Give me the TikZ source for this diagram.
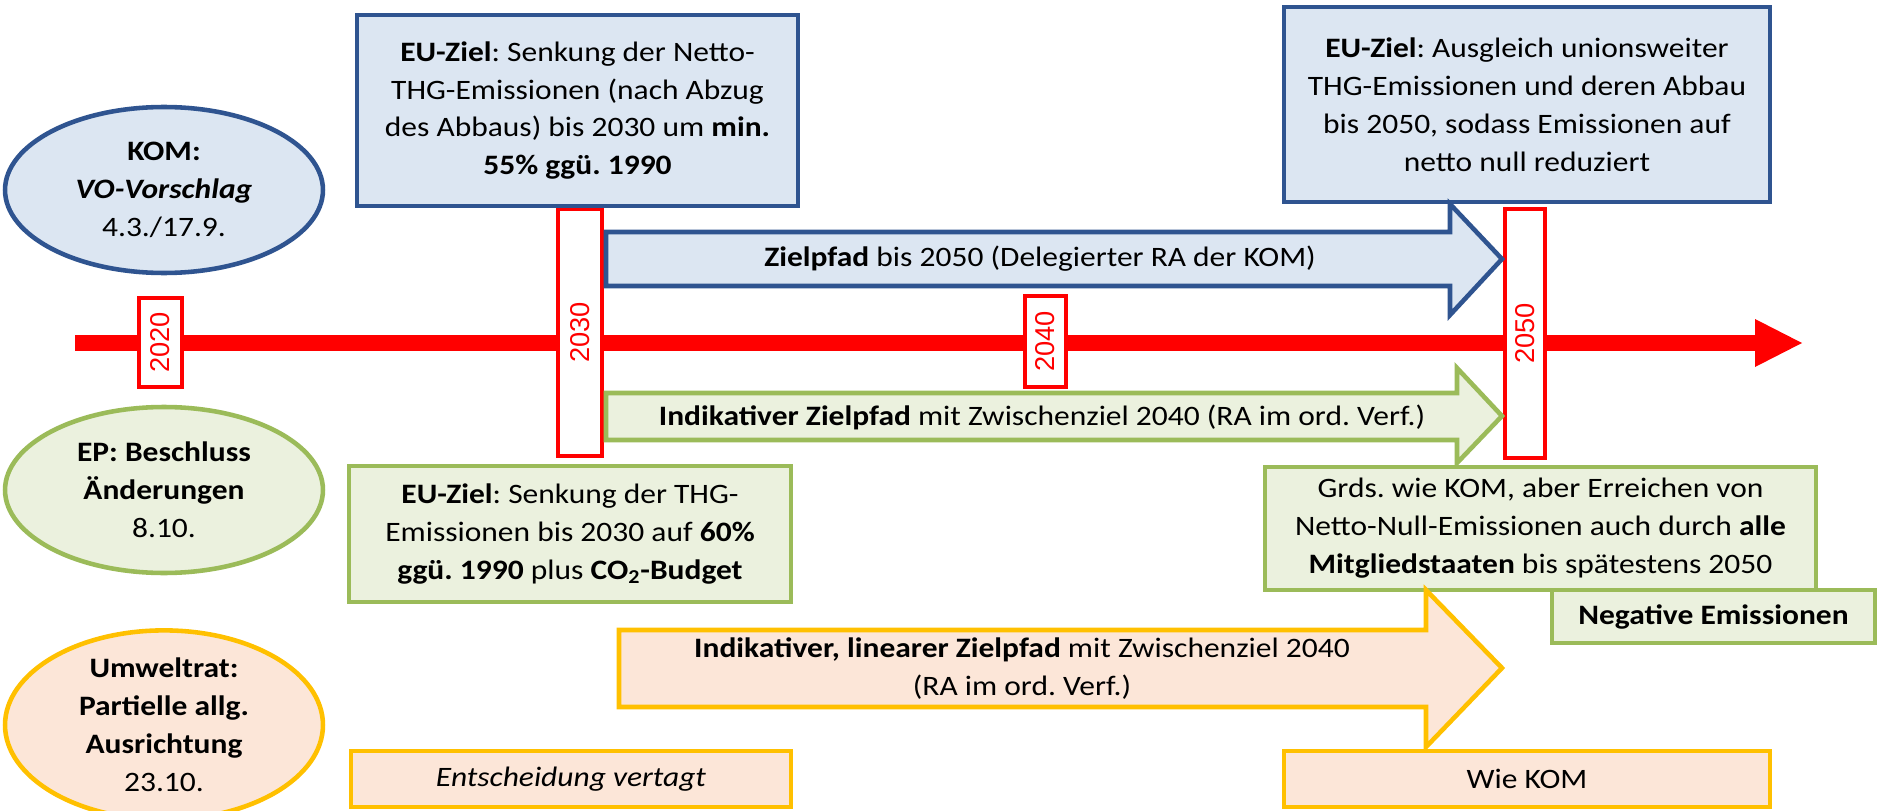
\documentclass[tikz,border=0pt]{standalone}
\usepackage{fontspec}
\setmainfont{Carlito}[FakeStretch=1.12]
\newfontfamily\jahrfont{Liberation Sans}
\usepackage{tikz}
\usetikzlibrary{shapes.geometric,positioning}
\frenchspacing
\definecolor{komblau}{HTML}{2F5490}
\definecolor{komhell}{HTML}{DCE6F2}
\definecolor{epgruen}{HTML}{9BBB59}
\definecolor{ephell}{HTML}{EBF1DE}
\definecolor{ratgelb}{HTML}{FFC000}
\definecolor{rathell}{HTML}{FCE6D8}
\tikzset{
    % Kästen und Ellipsen der drei Organe
    kombox/.style={draw=komblau, fill=komhell, line width=2.6pt, align=center, inner sep=0pt},
    epbox/.style={draw=epgruen, fill=ephell, line width=2.6pt, align=center, inner sep=0pt},
    ratbox/.style={draw=ratgelb, fill=rathell, line width=2.6pt, align=center, inner sep=0pt},
    organ/.style={ellipse, minimum width=6.36cm, minimum height=3.32cm},
    % Jahresmarken auf der Zeitachse
    jahrbox/.style={draw=red, fill=white, line width=1.9pt, rotate=90, inner sep=0pt,
        text=red, font=\fontsize{15.5}{15.5}\jahrfont},
    pfeiltext/.style={align=center, inner sep=0pt}
}

\begin{document}
\begin{tikzpicture}[x=0.02cm, y=-0.02cm, font=\fontsize{16}{21.6}\selectfont]
    \useasboundingbox (0,0) rectangle (1884,811);

    % ===================== Zeitachse =====================
    \path
    (75,343) coordinate (achse0)
    (1757,343) coordinate (achse1)
    (1755,319) coordinate (spitzeo)
    (1802,343) coordinate (spitze)
    (1755,367) coordinate (spitzeu)
    ;
    \draw[red, line width=0.32cm] (achse0) -- (achse1);
    \fill[red] (spitzeo) -- (spitze) -- (spitzeu) -- cycle;

    % Jahre (gedreht)
    \node[jahrbox, minimum width=1.78cm, minimum height=0.86cm] (j2020) at (160.5,342.5) {2020};
    \node[jahrbox, minimum width=4.94cm, minimum height=0.88cm] (j2030) at (580,332.5) {2030};
    \node[jahrbox, minimum width=1.82cm, minimum height=0.82cm] (j2040) at (1045.5,341.5) {2040};
    \node[jahrbox, minimum width=4.98cm, minimum height=0.80cm] (j2050) at (1525,333.5) {2050};

    % ===================== KOM =====================
    \node[kombox, organ] (kom) at (164,190)
        {\textbf{KOM:}\\\textbf{\textit{VO-Vorschlag}}\\4.3./17.9.};
    \node[kombox, minimum width=8.82cm, minimum height=3.82cm] (komziel) at (577.5,110.5)
        {\textbf{EU-Ziel}: Senkung der Netto-\\THG-Emissionen (nach Abzug\\des Abbaus) bis 2030 um \textbf{min.}\\\textbf{55\% ggü. 1990}};
    \node[kombox, minimum width=9.72cm, minimum height=3.90cm] (komnull) at (1527,104.5)
        {\textbf{EU-Ziel}: Ausgleich unionsweiter\\THG-Emissionen und deren Abbau\\bis 2050, sodass Emissionen auf\\netto null reduziert};
    % Pfeil
    \draw[kombox] (606,232) -- (1450,232) -- (1450,204) -- (1502,259)
        -- (1450,315) -- (1450,286) -- (606,286) -- cycle;
    \node[pfeiltext] (kompfad) at (1040,259) {\textbf{Zielpfad} bis 2050 (Delegierter RA der KOM)};

    % ===================== EP =====================
    \node[epbox, organ] (ep) at (164,490)
        {\textbf{EP: Beschluss}\\\textbf{Änderungen}\\8.10.};
    \draw[epbox] (606,393) -- (1457,393) -- (1457,368) -- (1502,416)
        -- (1457,463) -- (1457,440) -- (606,440) -- cycle;
    \node[pfeiltext] (eppfad) at (1042,417)
        {\textbf{Indikativer Zielpfad} mit Zwischenziel 2040 (RA im ord. Verf.)};
    \node[epbox, minimum width=8.84cm, minimum height=2.72cm] (epziel) at (570,534)
        {\textbf{EU-Ziel}: Senkung der THG-\\Emissionen bis 2030 auf \textbf{60\%}\\\textbf{ggü. 1990} plus \textbf{CO\textsubscript{2}-Budget}};
    \node[epbox, minimum width=11.02cm, minimum height=2.46cm] (epnull) at (1540.5,528.5)
        {Grds. wie KOM, aber Erreichen von\\Netto-Null-Emissionen auch durch \textbf{alle}\\\textbf{Mitgliedstaaten} bis spätestens 2050};
    \node[epbox, minimum width=6.46cm, minimum height=1.06cm] (epneg) at (1713.5,616.5)
        {\textbf{Negative Emissionen}};

    % ===================== Umweltrat =====================
    \node[ratbox, organ, minimum height=3.2cm] (rat) at (164,725)
        {\textbf{Umweltrat:}\\\textbf{Partielle allg.}\\\textbf{Ausrichtung}\\23.10.};
    \draw[ratbox] (619,630) -- (1426,630) -- (1426,590) -- (1502,668)
        -- (1426,747) -- (1426,707) -- (619,707) -- cycle;
    \node[pfeiltext] (ratpfad) at (1022,669)
        {\textbf{Indikativer, linearer Zielpfad} mit Zwischenziel 2040\\(RA im ord. Verf.)};
    \node[ratbox, minimum width=8.8cm, minimum height=1.12cm] (ratvertagt) at (571,779)
        {\textit{Entscheidung vertagt}};
    \node[ratbox, minimum width=9.72cm, minimum height=1.12cm] (ratkom) at (1527,779)
        {Wie KOM};
\end{tikzpicture}
\end{document}
